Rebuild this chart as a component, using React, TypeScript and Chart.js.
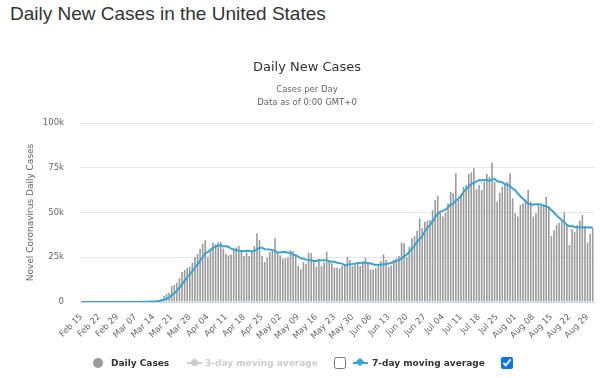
import React, { useEffect, useRef } from "react";
import { Chart, registerables } from "chart.js";

Chart.register(...registerables);

// Month spans for the category axis (month name, first day, last day)
const MONTH_SPANS: [string, number, number][] = [
  ["Feb", 15, 29],
  ["Mar", 1, 31],
  ["Apr", 1, 30],
  ["May", 1, 31],
  ["Jun", 1, 30],
  ["Jul", 1, 31],
  ["Aug", 1, 31],
];

const categories: string[] = [];
for (const [m, a, b] of MONTH_SPANS) {
  for (let d = a; d <= b; d++) categories.push(`${m} ${String(d).padStart(2, "0")}`);
}

const xTickLabels = [
  "Feb 15", "Feb 22", "Feb 29", "Mar 07", "Mar 14", "Mar 21", "Mar 28",
  "Apr 04", "Apr 11", "Apr 18", "Apr 25", "May 02", "May 09", "May 16",
  "May 23", "May 30", "Jun 06", "Jun 13", "Jun 20", "Jun 27", "Jul 04",
  "Jul 11", "Jul 18", "Jul 25", "Aug 01", "Aug 08", "Aug 15", "Aug 22", "Aug 29",
];

const yTickValues = [0, 25000, 50000, 75000, 100000];
const yTickLabels = ["0", "25k", "50k", "75k", "100k"];

// Daily new cases (Feb 15 .. Aug 31)
const dailyCases = [
  0, 0, 0, 0, 0, 0, 1, 0, 0, 0, 0, 0, 0, 1, 4,
  8, 23, 20, 31, 68, 45, 140, 116, 65, 376, 322, 382, 516, 548, 772, 1133, 1789,
  3500, 4500, 5200, 9000, 9500, 10800, 13200, 16800, 17900, 19200, 19700, 22000,
  25000, 26800, 29800, 32400, 34500, 25300, 29800, 33200, 32200, 33400, 33500,
  29800, 27000, 26000, 26600, 29400, 30400, 31300, 29000, 25700, 27600, 25700,
  28500, 31300, 38400, 34700,
  25700, 22400, 24800, 27900, 29000, 35600, 28100, 26100, 24200, 24400, 24800,
  29000, 28500, 26100, 20100, 18200, 22400, 21400, 27600, 27200, 23500, 19700,
  22900, 20100, 22000, 28100, 23100, 21600, 19200, 19200, 18800, 20100, 21200,
  25300, 23500, 20100, 21000, 21600, 20100, 22400, 24800, 22400,
  18200, 18200, 18800, 20700, 22900, 26600, 23500, 19700, 20500, 23500, 24400,
  25700, 33200, 32800, 25300, 30900, 35600, 36900, 39700, 46700, 41200, 44900,
  45400, 45800, 51400, 57000, 59200, 49900, 47700, 49900, 55100, 61600, 60700,
  71900, 57000, 59800, 64400, 65400, 71500, 72400, 74700, 63000, 65400, 62600,
  67200, 71500, 70000,
  77800, 67000, 56000, 61000, 64400, 65400, 67200, 71900, 57900, 49500, 47700,
  54200, 55100, 57300, 62600, 56000, 47700, 49500, 54200, 53600, 53600, 58800,
  52900, 36900, 39900, 43000, 44300, 44900, 49900, 42500, 31800, 40600, 39300,
  43000, 45400, 48600, 42500, 33200, 38000, 41200,
];

// 7-day moving average line (Feb 15 .. Aug 31)
const movingAvg7 = [
  0, 0, 0, 0, 0, 0, 0, 0, 0, 0, 0, 0, 0, 0, 1,
  2, 5, 8, 12, 22, 28, 48, 63, 69, 120, 162, 207, 274, 332, 426, 578, 780,
  1234, 1823, 2492, 3699, 4946, 6327, 7957, 9857, 11771, 13771, 15300, 17086,
  19114, 21057, 22914, 24986, 27171, 27971, 29086, 30257, 31029, 31543, 31700,
  31029, 31271, 30729, 29786, 29386, 28957, 28643, 28529, 28343, 28571, 28443,
  28314, 28443, 29457, 30271,
  30271, 29529, 29400, 29314, 28986, 28586, 27643, 27700, 27957, 27900, 27457,
  27457, 26443, 26157, 25300, 24443, 24157, 23671, 23471, 23286, 22914, 22857,
  23529, 23200, 23286, 23357, 22771, 22500, 22429, 21900, 21714, 21443, 20457,
  20771, 21043, 21171, 21429, 21829, 21829, 22000, 21929, 21771,
  21500, 21100, 20700, 20786, 20857, 21114, 21271, 21486, 21814, 22486, 23014,
  23414, 24357, 25686, 26486, 27971, 29700, 31486, 33486, 35414, 36614, 39414,
  41486, 42943, 45014, 47486, 49271, 50514, 50914, 51557, 52886, 54343, 54871,
  56686, 57700, 59429, 61500, 62971, 64386, 66057, 66457, 67314, 68114, 67857,
  68114, 68114, 67771,
  68214, 68786, 67443, 67214, 66814, 65943, 65543, 64700, 63400, 62471, 60571,
  59114, 57643, 56229, 54900, 54629, 54371, 54629, 54629, 54414, 53886, 53343,
  52900, 51357, 49986, 48386, 47057, 45814, 44543, 43057, 42329, 42429, 41900,
  41714, 41786, 41600, 41600, 41800, 41429, 41700,
];

const FONT = "'DejaVu Sans', sans-serif";
const BAR_COLOR = "#9a9a9a";
const LINE_COLOR = "#36a5d6";

export default function App() {
  const canvasRef = useRef<HTMLCanvasElement | null>(null);

  useEffect(() => {
    if (!canvasRef.current) return;
    const tickSet = new Set(xTickLabels);
    const chart = new Chart(canvasRef.current, {
      type: "bar",
      data: {
        labels: categories,
        datasets: [
          {
            type: "line",
            label: "7-day moving average",
            data: movingAvg7,
            borderColor: LINE_COLOR,
            backgroundColor: LINE_COLOR,
            borderWidth: 2,
            pointRadius: 0,
            tension: 0,
            order: 0,
          },
          {
            type: "bar",
            label: "Daily Cases",
            data: dailyCases,
            backgroundColor: BAR_COLOR,
            borderWidth: 0,
            barPercentage: 0.62,
            categoryPercentage: 1,
            order: 1,
          },
        ],
      },
      options: {
        animation: false,
        responsive: false,
        maintainAspectRatio: false,
        layout: { padding: { top: 123, right: 6, bottom: 0, left: 0 } },
        plugins: {
          legend: { display: false },
          tooltip: { enabled: false },
          title: { display: false },
        },
        scales: {
          x: {
            type: "category",
            offset: true,
            grid: { display: false },
            border: { display: true, color: "#ccd6eb", width: 1 },
            ticks: {
              autoSkip: false,
              maxRotation: 45,
              minRotation: 45,
              padding: 2,
              color: "#666666",
              font: { family: FONT, size: 8.5 },
              callback: (_v: any, i: number) =>
                tickSet.has(categories[i]) ? categories[i] : null,
            },
            afterFit: (s: any) => {
              s.height = 76;
            },
          },
          y: {
            min: 0,
            max: 100000,
            afterBuildTicks: (s: any) => {
              s.ticks = yTickValues.map((v) => ({ value: v }));
            },
            ticks: {
              padding: 16,
              color: "#666666",
              font: { family: FONT, size: 8.5 },
              callback: (v: any) => {
                const idx = yTickValues.indexOf(Number(v));
                return idx >= 0 ? yTickLabels[idx] : "";
              },
            },
            grid: { color: "#e6e6e6", drawTicks: false },
            border: { display: false },
            title: {
              display: true,
              text: "Novel Coronavirus Daily Cases",
              color: "#666666",
              font: { family: FONT, size: 9 },
              padding: { top: 25, bottom: 0 },
            },
            afterFit: (s: any) => {
              s.width = 80;
            },
          },
        },
      },
    });
    return () => chart.destroy();
  }, []);

  const legendText: React.CSSProperties = {
    position: "absolute",
    top: 356,
    fontFamily: FONT,
    fontWeight: "bold",
    fontSize: 9,
    lineHeight: "14px",
    whiteSpace: "nowrap",
  };

  return (
    <div
      style={{
        position: "fixed",
        left: 0,
        top: 0,
        width: 600,
        height: 378,
        background: "#ffffff",
        overflow: "hidden",
      }}
    >
      <div
        style={{
          position: "absolute",
          left: 10,
          top: 3,
          fontFamily: "'Liberation Sans', Arial, sans-serif",
          fontSize: 19,
          color: "#333333",
          whiteSpace: "nowrap",
        }}
      >
        Daily New Cases in the United States
      </div>
      <canvas
        ref={canvasRef}
        width={600}
        height={378}
        style={{ position: "absolute", left: 0, top: 0, width: 600, height: 378 }}
      />
      <div
        style={{
          position: "absolute",
          left: 207,
          width: 200,
          top: 59,
          textAlign: "center",
          fontFamily: FONT,
          fontSize: 13,
          color: "#333333",
        }}
      >
        Daily New Cases
      </div>
      <div
        style={{
          position: "absolute",
          left: 207,
          width: 200,
          top: 83,
          textAlign: "center",
          fontFamily: FONT,
          fontSize: 8.5,
          lineHeight: "13px",
          color: "#666666",
        }}
      >
        <div>Cases per Day</div>
        <div>Data as of 0:00 GMT+0</div>
      </div>
      {/* Legend */}
      <div
        style={{
          position: "absolute",
          left: 93,
          top: 358,
          width: 10,
          height: 10,
          borderRadius: 5,
          background: BAR_COLOR,
        }}
      />
      <div style={{ ...legendText, left: 111, color: "#333333" }}>Daily Cases</div>
      <div
        style={{ position: "absolute", left: 187, top: 362, width: 15, height: 2, background: "#cccccc" }}
      />
      <div
        style={{
          position: "absolute",
          left: 191,
          top: 359,
          width: 7,
          height: 7,
          borderRadius: 4,
          background: "#cccccc",
        }}
      />
      <div style={{ ...legendText, left: 205, color: "#cccccc" }}>3-day moving average</div>
      <input
        type="checkbox"
        readOnly
        style={{ position: "absolute", left: 334, top: 357, width: 12, height: 12, margin: 0 }}
      />
      <div
        style={{ position: "absolute", left: 353, top: 362, width: 15, height: 2, background: LINE_COLOR }}
      />
      <div
        style={{
          position: "absolute",
          left: 357,
          top: 359,
          width: 6,
          height: 6,
          transform: "rotate(45deg)",
          background: LINE_COLOR,
        }}
      />
      <div style={{ ...legendText, left: 372, color: "#333333" }}>7-day moving average</div>
      <input
        type="checkbox"
        checked
        readOnly
        style={{ position: "absolute", left: 501, top: 357, width: 12, height: 12, margin: 0 }}
      />
    </div>
  );
}
